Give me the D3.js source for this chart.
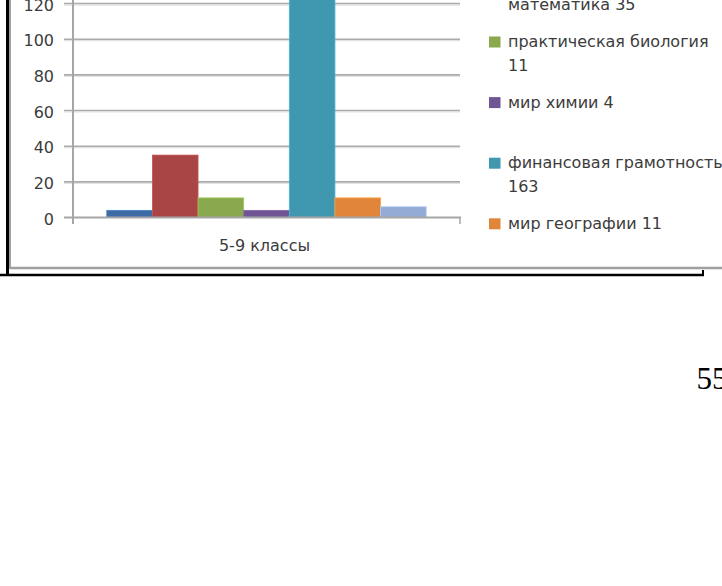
<!DOCTYPE html>
<html>
<head>
<meta charset="utf-8">
<script src="https://cdn.jsdelivr.net/npm/d3@7"></script>
<style>
  html, body { margin: 0; padding: 0; background: #fff; }
  svg { display: block; }
</style>
</head>
<body>
<svg id="chart" width="722" height="586"></svg>
<script>
// ---- data ----
const categories = ["5-9 классы"];
const seriesNames = ["мир физики", "занимательная математика", "практическая биология", "мир химии", "финансовая грамотность", "мир географии", "мир информатики"];
const seriesValues = [4, 35, 11, 4, 163, 11, 6];
// legend text as shown (wrapped lines)
const legendLabels = [
  ["мир физики 4"],
  ["занимательная", "математика 35"],
  ["практическая биология", "11"],
  ["мир химии  4"],
  ["финансовая грамотность", "163"],
  ["мир географии 11"],
  ["мир информатики 6"]
];
const yTicks = [0, 20, 40, 60, 80, 100, 120, 140, 160, 180];
const pageNumber = "55";

// ---- styles ----
const seriesColors = ["#3e6ba6", "#aa4545", "#8aa84c", "#6f5594", "#3f98b0", "#e0853a", "#93abd4"];
const textColor = "#3c3c3c";
const font = "'DejaVu Sans', sans-serif";

const svg = d3.select("#chart");

// scales
const x0 = d3.scaleBand().domain(categories).range([73, 460]).padding(0);
const x1 = d3.scaleBand().domain(seriesNames).range([0, x0.bandwidth()]).paddingInner(0).paddingOuter(0.74);
const y = d3.scaleLinear().domain([0, 180]).range([217.5, 217.5 - 180 * 1.783]);

// chart-area border (gray) and outer frame (black)
svg.append("line").attr("x1", 10).attr("x2", 10).attr("y1", 0).attr("y2", 269)
  .attr("stroke", "#a0a0a0").attr("stroke-width", 2);
svg.append("line").attr("x1", 10).attr("x2", 722).attr("y1", 268).attr("y2", 268)
  .attr("stroke", "#a0a0a0").attr("stroke-width", 2.5);
svg.append("line").attr("x1", 7.5).attr("x2", 7.5).attr("y1", 0).attr("y2", 276)
  .attr("stroke", "#000").attr("stroke-width", 3);
svg.append("line").attr("x1", 0).attr("x2", 704).attr("y1", 275).attr("y2", 275)
  .attr("stroke", "#000").attr("stroke-width", 2.5);
svg.append("line").attr("x1", 703).attr("x2", 703).attr("y1", 270).attr("y2", 276)
  .attr("stroke", "#000").attr("stroke-width", 2);

// gridlines
const grid = svg.append("g");
grid.selectAll("line.shadow").data(yTicks.filter(d => d > 0)).join("line")
  .attr("class", "shadow")
  .attr("x1", 64).attr("x2", 460)
  .attr("y1", d => y(d) + 1.5).attr("y2", d => y(d) + 1.5)
  .attr("stroke", "#e2e2e2").attr("stroke-width", 1.2);
grid.selectAll("line.main").data(yTicks.filter(d => d > 0)).join("line")
  .attr("class", "main")
  .attr("x1", 64).attr("x2", 460)
  .attr("y1", d => y(d)).attr("y2", d => y(d))
  .attr("stroke", "#ababab").attr("stroke-width", 1.6);

// bars
const barsG = svg.append("g");
categories.forEach(cat => {
  barsG.selectAll("rect.c").data(seriesNames.map((n, i) => ({ n, v: seriesValues[i], i }))).join("rect")
    .attr("x", d => x0(cat) + x1(d.n))
    .attr("width", x1.bandwidth())
    .attr("y", d => y(d.v))
    .attr("height", d => y(0) - y(d.v))
    .attr("fill", d => seriesColors[d.i])
    .attr("stroke", d => d3.color(seriesColors[d.i]).brighter(0.5))
    .attr("stroke-width", 0.8);
});

// axes
const yAxis = d3.axisLeft(y).tickValues(yTicks).tickSize(0).tickPadding(0);
const yg = svg.append("g").attr("transform", "translate(54,0)").call(yAxis);
yg.select(".domain").remove();
yg.selectAll("text").attr("fill", textColor).attr("font-family", font).attr("font-size", 16)
  .attr("dy", "0.42em");

svg.append("line").attr("x1", 73).attr("x2", 73).attr("y1", y(180)).attr("y2", 224)
  .attr("stroke", "#a6a6a6").attr("stroke-width", 2);
const xAxis = d3.axisBottom(x0).tickSize(0).tickPadding(0);
const xg = svg.append("g").attr("transform", "translate(0,217.5)").call(xAxis);
xg.select(".domain").remove();
xg.selectAll("text").attr("fill", textColor).attr("font-family", font).attr("font-size", 16)
  .attr("dy", 0).attr("y", 33.5).attr("dx", -2);
svg.append("line").attr("x1", 64).attr("x2", 461).attr("y1", 217.5).attr("y2", 217.5)
  .attr("stroke", "#a6a6a6").attr("stroke-width", 2);
svg.append("line").attr("x1", 460).attr("x2", 460).attr("y1", 217.5).attr("y2", 224)
  .attr("stroke", "#a6a6a6").attr("stroke-width", 1.5);

// legend
svg.append("clipPath").attr("id", "legclip").append("rect")
  .attr("x", 470).attr("y", -200).attr("width", 260).attr("height", 462);
const leg = svg.append("g").attr("clip-path", "url(#legclip)");
seriesNames.forEach((name, i) => {
  const base = 47 + (i - 2) * 60.6;
  const g = leg.append("g");
  g.append("rect").attr("x", 489).attr("y", base - 10.5).attr("width", 11.5).attr("height", 11)
    .attr("fill", seriesColors[i]);
  const t = g.append("text").attr("font-family", font).attr("font-size", 16).attr("fill", textColor);
  legendLabels[i].forEach((ln, k) => {
    t.append("tspan").attr("x", 508).attr("y", base + k * 23.5).text(ln);
  });
});

// page number
svg.append("text").attr("x", 696.5).attr("y", 389).attr("font-family", "'Liberation Serif', serif")
  .attr("font-size", 31).attr("fill", "#000").text(pageNumber);
</script>
</body>
</html>
